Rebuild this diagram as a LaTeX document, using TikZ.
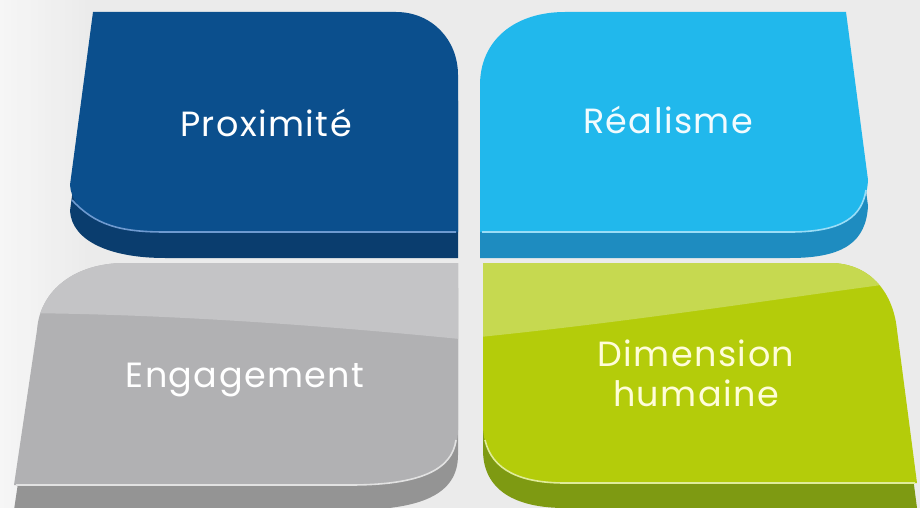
\documentclass[tikz,border=0pt]{standalone}
\usepackage{fontspec}
\setmainfont{Poppins}[LetterSpace=4]
\definecolor{bgc}{HTML}{EBEBEB}
\definecolor{tlTop}{HTML}{0B4F8D}
\definecolor{tlSide}{HTML}{0A3D6E}
\definecolor{tlHi}{HTML}{6E9AD0}
\definecolor{trTop}{HTML}{21B8EC}
\definecolor{trSide}{HTML}{1E8CC0}
\definecolor{trHi}{HTML}{9ADDF7}
\definecolor{blTop}{HTML}{B1B1B3}
\definecolor{blBand}{HTML}{C4C4C6}
\definecolor{blSide}{HTML}{949494}
\definecolor{blHi}{HTML}{E2E2E2}
\definecolor{brTop}{HTML}{B4CC0A}
\definecolor{brBand}{HTML}{C6D950}
\definecolor{brSide}{HTML}{7E9A12}
\definecolor{brHi}{HTML}{E0EC9A}
\tikzset{
  lbl/.style={font=\fontsize{35}{40}\selectfont, align=center, inner sep=0pt},
  hiline/.style={line width=1.6pt},
}
\begin{document}
\begin{tikzpicture}[x=1pt,y=-1pt]
\useasboundingbox (0,0) rectangle (920,508);
\fill[bgc] (0,0) rectangle (920,508);
\shade[left color=white!70!bgc, right color=bgc, opacity=0.8] (0,0) rectangle (95,508);
% ---------- top-left: Proximite ----------
\def\tlpath#1{(93,12+#1) -- (396,12+#1) .. controls (432,12+#1) and (458,40+#1) .. (458,75+#1) -- (458,232+#1) -- (165,232+#1) .. controls (110,232+#1) and (72,215+#1) .. (70,185+#1) -- cycle}
\fill[tlSide] \tlpath{26};
\fill[tlTop] \tlpath{0};
\draw[tlHi,hiline] (72,200) .. controls (95,225) and (120,232) .. (165,232) -- (456,232);
% ---------- top-right: Realisme ----------
\def\trpath#1{(480,232+#1) -- (480,85+#1) .. controls (480,40+#1) and (515,12+#1) .. (565,12+#1) -- (846,12+#1) -- (868,180+#1) .. controls (866,215+#1) and (845,232+#1) .. (790,232+#1) -- cycle}
\fill[trSide] \trpath{26};
\fill[trTop] \trpath{0};
\draw[trHi,hiline] (482,232) -- (790,232) .. controls (845,232) and (862,215) .. (866,190);
% ---------- bottom-left: Engagement ----------
\def\blpath#1{(458,263+#1) -- (125,263+#1) .. controls (75,263+#1) and (40,290+#1) .. (37,330+#1) -- (14,485+#1) -- (350,485+#1) .. controls (420,485+#1) and (458,470+#1) .. (458,430+#1) -- cycle}
\fill[blSide] \blpath{25};
\fill[blTop] \blpath{0};
\begin{scope}
  \clip \blpath{0};
  \fill[blBand] (0,250) -- (470,250) -- (470,340) .. controls (250,318) and (100,313) .. (0,313) -- cycle;
\end{scope}
\draw[blHi,hiline] (16,485) -- (350,485) .. controls (420,485) and (452,470) .. (456,440);
% ---------- bottom-right: Dimension humaine ----------
\def\brpath#1{(483,263+#1) -- (830,263+#1) .. controls (868,263+#1) and (893,290+#1) .. (897,330+#1) -- (917,483+#1) -- (565,483+#1) .. controls (515,483+#1) and (483,465+#1) .. (483,425+#1) -- cycle}
\fill[brSide] \brpath{25};
\fill[brTop] \brpath{0};
\begin{scope}
  \clip \brpath{0};
  \fill[brBand] (470,250) -- (920,250) -- (920,280) .. controls (800,295) and (650,320) .. (470,338) -- cycle;
\end{scope}
\draw[brHi,hiline] (485,440) .. controls (492,470) and (520,483) .. (565,483) -- (915,483);
% ---------- labels ----------
\node[lbl, text=white] (prox) at (266,123) {Proximité};
\node[lbl, text=white!95!cyan] (real) at (668,120) {Réalisme};
\node[lbl, text=white] (eng) at (245,380) {Engagement};
\node[lbl, text=white!85!yellow] (dim) at (696,373) {Dimension\\humaine};
\end{tikzpicture}
\end{document}
